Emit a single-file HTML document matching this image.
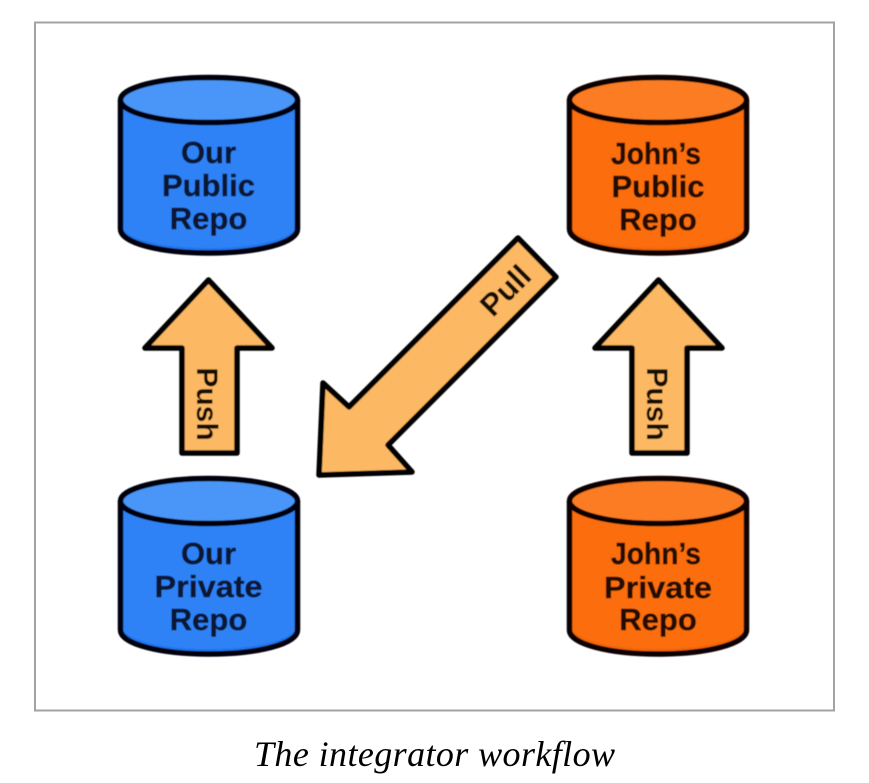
<!DOCTYPE html>
<html>
<head>
<meta charset="utf-8">
<style>
html,body{margin:0;padding:0;background:#fff;width:869px;height:783px;overflow:hidden}
svg{display:block}
.d{font-family:"Liberation Sans",sans-serif;font-weight:bold;font-size:31px;text-anchor:middle;stroke-width:.4px}
</style>
</head>
<body>
<svg width="869" height="783" viewBox="0 0 869 783" xmlns="http://www.w3.org/2000/svg">
<defs>
<filter id="b" x="-5%" y="-5%" width="110%" height="110%"><feGaussianBlur stdDeviation="0.5"/></filter>
<g id="cylB">
<path d="M121 100V229C121 243 160 253 209 253S297 243 297 229V100Z" fill="#2f82f6"/>
<path d="M121 224C121 238 160 248 209 248S297 238 297 224V229C297 243 258 251 209 251S121 243 121 229Z" fill="#2476ec"/>
<path d="M120.500 100V229C120.500 243 160 253 209 253S297.500 243 297.500 229V100" fill="none" stroke="#05050c" stroke-width="5.500" stroke-linejoin="round"/>
<ellipse cx="209" cy="100" rx="88.500" ry="22.500" fill="#4a95f8" stroke="#05050c" stroke-width="5.500"/>
</g>
<g id="cylO">
<path d="M571 100V229C571 243 610 253 659 253S747 243 747 229V100Z" fill="#fb6d0a"/>
<path d="M571 224C571 238 610 248 659 248S747 238 747 224V229C747 243 708 251 659 251S571 243 571 229Z" fill="#f0660a"/>
<path d="M570.500 100V229C570.500 243 610 253 659 253S747.500 243 747.500 229V100" fill="none" stroke="#0c0503" stroke-width="5.500" stroke-linejoin="round"/>
<ellipse cx="659" cy="100" rx="88.500" ry="22.500" fill="#fb7b20" stroke="#0c0503" stroke-width="5.500"/>
</g>
<path id="up" d="M208.500 280L272 348H237V453H182V348H145Z" fill="#fdb863" stroke="#050505" stroke-width="5.500" stroke-linejoin="round"/>
</defs>

<rect x="35" y="22.500" width="799" height="688" fill="#fff" stroke="#a3a3a3" stroke-width="2"/>

<g filter="url(#b)">
<use href="#cylB"/>
<use href="#cylB" y="401"/>
<use href="#cylO" x="-1"/>
<use href="#cylO" x="-1" y="401"/>
<use href="#up"/>
<use href="#up" x="450"/>
<path d="M518 238L556 277L388 445L412 472L319 475L323 383L349 407Z" fill="#fdb863" stroke="#050505" stroke-width="5.500" stroke-linejoin="round"/>

<g class="d" fill="#071430" stroke="#071430">
<text x="208.500" y="163">Our</text>
<text x="208.500" y="196">Public</text>
<text x="208.500" y="229">Repo</text>
<text x="208.500" y="564">Our</text>
<text x="208.500" y="597" textLength="108" lengthAdjust="spacingAndGlyphs">Private</text>
<text x="208.500" y="630">Repo</text>
</g>
<g class="d" fill="#200c04" stroke="#200c04">
<text x="656" y="164" textLength="90" lengthAdjust="spacingAndGlyphs">John’s</text>
<text x="658" y="197">Public</text>
<text x="658" y="230">Repo</text>
<text x="656" y="564" textLength="90" lengthAdjust="spacingAndGlyphs">John’s</text>
<text x="658" y="598" textLength="108" lengthAdjust="spacingAndGlyphs">Private</text>
<text x="658" y="630">Repo</text>
</g>
<g font-family="Liberation Sans, sans-serif" font-weight="bold" font-size="30" fill="#120c05" text-anchor="middle">
<text transform="translate(197,404) rotate(90)">Push</text>
<text transform="translate(647,404) rotate(90)">Push</text>
<text transform="translate(513,298) rotate(-45)" font-size="31">Pull</text>
</g>
</g>

<text x="434.500" y="766" font-family="Liberation Serif, serif" font-style="italic" font-size="36" text-anchor="middle" fill="#000" textLength="361" lengthAdjust="spacing">The integrator workflow</text>
</svg>
</body>
</html>
